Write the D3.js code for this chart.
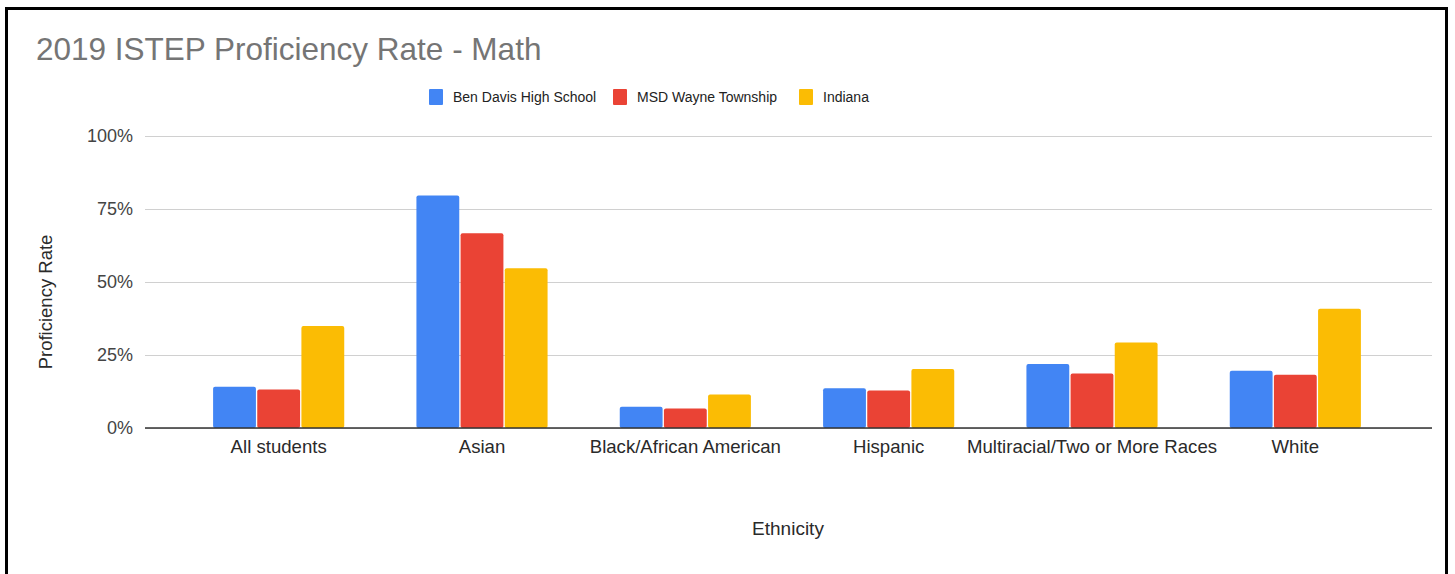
<!DOCTYPE html>
<html>
<head>
<meta charset="utf-8">
<script src="https://cdn.jsdelivr.net/npm/d3@7"></script>
<style>
  body { margin: 0; background: #fff; }
  text { font-family: "Liberation Sans", Arial, sans-serif; }
</style>
</head>
<body>
<script>
const categories = ["All students", "Asian", "Black/African American", "Hispanic",
  "Multiracial/Two or More Races", "White"];
const seriesNames = ["Ben Davis High School", "MSD Wayne Township", "Indiana"];
const benDavis = [14.1, 79.6, 7.3, 13.6, 21.9, 19.6];
const msdWayne = [13.2, 66.7, 6.7, 12.8, 18.7, 18.2];
const indiana = [34.9, 54.7, 11.5, 20.2, 29.3, 40.8];
const yTicks = [0, 25, 50, 75, 100];
const colors = ["#4285f4", "#ea4335", "#fbbc04"];

const w = 1455, h = 574;
const series = [benDavis, msdWayne, indiana];

const svg = d3.select("body").append("svg")
  .attr("width", w)
  .attr("height", h);

// frame
svg.append("rect")
  .attr("x", 6.5).attr("y", 8.5)
  .attr("width", 1440).attr("height", 600)
  .attr("fill", "#fff")
  .attr("stroke", "#000")
  .attr("stroke-width", 3);

// title
svg.append("text")
  .attr("x", 36).attr("y", 60)
  .attr("font-size", 31.5)
  .attr("fill", "#757575")
  .text("2019 ISTEP Proficiency Rate - Math");

// scales
const x = d3.scaleBand()
  .domain(categories)
  .range([177, 1397])
  .paddingInner(0.355)
  .paddingOuter(0.1775);

const x1 = d3.scaleBand()
  .domain(seriesNames)
  .range([0, x.bandwidth()])
  .paddingInner(0.03);

const y = d3.scaleLinear()
  .domain([0, 100])
  .range([428, 136]);

// gridlines + y labels
const yAxis = d3.axisLeft(y)
  .tickValues(yTicks)
  .tickSize(-(1432 - 145))
  .tickFormat(d => d + "%");

const gy = svg.append("g")
  .attr("transform", "translate(145,0)")
  .call(yAxis);
gy.select(".domain").remove();
gy.selectAll(".tick line").attr("stroke", "#d0d0d0").attr("stroke-width", 1.2);
gy.selectAll(".tick text")
  .attr("x", -12)
  .attr("font-size", 18)
  .attr("fill", "#444")
  .style("font-family", "'Liberation Sans', Arial, sans-serif");

// bars
const groups = svg.append("g")
  .selectAll("g")
  .data(series)
  .join("g")
  .attr("fill", (d, i) => colors[i]);

groups.selectAll("rect")
  .data((d, si) => d.map((v, ci) => ({ v, ci, si })))
  .join("rect")
  .attr("x", d => x(categories[d.ci]) + x1(seriesNames[d.si]))
  .attr("y", d => y(d.v))
  .attr("width", x1.bandwidth())
  .attr("height", d => y(0) - y(d.v))
  .attr("rx", 2);

// baseline
svg.append("line")
  .attr("x1", 145).attr("x2", 1432)
  .attr("y1", y(0)).attr("y2", y(0))
  .attr("stroke", "#333")
  .attr("stroke-width", 1.5);

// x labels
const xAxis = d3.axisBottom(x).tickSize(0);
const gx = svg.append("g")
  .attr("transform", `translate(0,${y(0)})`)
  .call(xAxis);
gx.select(".domain").remove();
gx.selectAll(".tick text")
  .attr("y", 12)
  .attr("font-size", 18.6)
  .attr("fill", "#2a2a2a")
  .style("font-family", "'Liberation Sans', Arial, sans-serif");

// axis titles
svg.append("text")
  .attr("x", 788).attr("y", 535)
  .attr("text-anchor", "middle")
  .attr("font-size", 19)
  .attr("fill", "#2a2a2a")
  .text("Ethnicity");

svg.append("text")
  .attr("transform", "translate(52,302) rotate(-90)")
  .attr("text-anchor", "middle")
  .attr("font-size", 18.5)
  .attr("fill", "#2a2a2a")
  .text("Proficiency Rate");

// legend
const legendX = [429, 613, 799];
const legend = svg.append("g")
  .selectAll("g")
  .data(seriesNames)
  .join("g")
  .attr("transform", (d, i) => `translate(${legendX[i]},89)`);
legend.append("rect")
  .attr("width", 14).attr("height", 16)
  .attr("rx", 1)
  .attr("fill", (d, i) => colors[i]);
legend.append("text")
  .attr("x", 24).attr("y", 13)
  .attr("font-size", 14)
  .attr("fill", "#222")
  .text(d => d);
</script>
</body>
</html>
